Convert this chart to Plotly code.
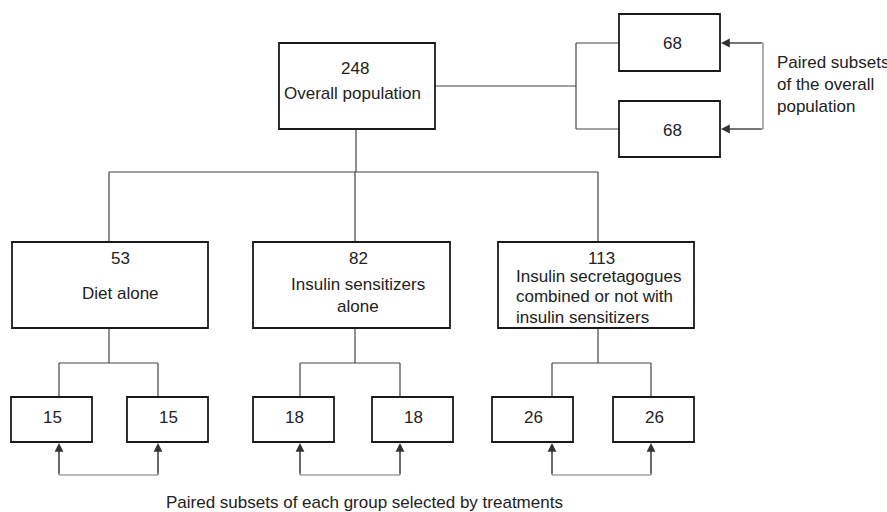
import plotly.graph_objects as go

# ---------------- data ----------------
overall_n = 248
overall_label = "Overall population"
overall_pairs_n = [68, 68]
side_note_lines = ["Paired subsets", "of the overall", "population"]
group_n = [53, 82, 113]
group_labels = [
    ["Diet alone"],
    ["Insulin sensitizers", "alone"],
    ["Insulin secretagogues", "combined or not with", "insulin sensitizers"],
]
subset_n = [[15, 15], [18, 18], [26, 26]]
caption = "Paired subsets of each group selected by treatments"

# ---------------- layout geometry (pixels) ----------------
W, H = 887, 512
TOP_BOX = (279, 43, 435, 129)
PAIR_BOXES = [(619, 14, 720, 71), (619, 101, 720, 157)]
PAIR_BUS_X = 576
PAIR_ARROW_X = 763
GROUP_BOXES = [(12, 242, 208, 328), (253, 242, 450, 328), (498, 242, 694, 328)]
GROUP_STEM_X = [109, 355, 598]
GROUP_BUS_Y = 172
GROUP_TEXT_X = [120, 358, None]
GROUP_TEXT_Y = [[258, 293], [258, 284, 306], [258, 276, 296, 317]]
SUB_BUS_Y = 363
SUB_BOXES = [[(11, 397, 92, 442), (127, 397, 208, 442)],
             [(253, 397, 334, 442), (372, 397, 453, 442)],
             [(492, 397, 573, 442), (613, 397, 694, 442)]]
SUB_STEM_X = [[59, 158], [300, 400], [552, 651]]
LOOP_Y = 475

FONT = "Liberation Sans, Arial, sans-serif"
FS = 17
TXT = "#222222"
BOX_LINE = dict(color="#1a1a1a", width=1.8)
CONN = dict(color="#444444", width=1.2)
LOOP = dict(color="#777777", width=1.2)

fig = go.Figure()
shapes = []
ann = []


def box(b):
    shapes.append(dict(type="rect", x0=b[0], y0=b[1], x1=b[2], y1=b[3],
                       xref="x", yref="y", line=BOX_LINE, fillcolor="white", layer="above"))


def seg(x0, y0, x1, y1, line=CONN):
    shapes.append(dict(type="line", x0=x0, y0=y0, x1=x1, y1=y1,
                       xref="x", yref="y", line=line, layer="below"))


def text(x, y, s, xanchor="center", align="center"):
    ann.append(dict(x=x, y=y, text=s, showarrow=False, xanchor=xanchor, yanchor="middle",
                    align=align, font=dict(family=FONT, size=FS, color=TXT)))


def arrow(tipx, tipy, tailx, taily):
    ann.append(dict(x=tipx, y=tipy, ax=tailx, ay=taily, axref="x", ayref="y",
                    xref="x", yref="y", text="", showarrow=True, arrowhead=2,
                    arrowsize=1.6, arrowwidth=1.1, arrowcolor="#333333", standoff=0))


# top box
box(TOP_BOX)
tcx = 355
text(tcx, 68, str(overall_n))
text(tcx - 3, 93, overall_label)

# connector to paired boxes
mid_y = (TOP_BOX[1] + TOP_BOX[3]) / 2
seg(TOP_BOX[2], mid_y, PAIR_BUS_X, mid_y)
pair_conn_y = [TOP_BOX[1], TOP_BOX[3]]
seg(PAIR_BUS_X, pair_conn_y[0], PAIR_BUS_X, pair_conn_y[1])
for b, n, cy in zip(PAIR_BOXES, overall_pairs_n, pair_conn_y):
    box(b)
    seg(PAIR_BUS_X, cy, b[0], cy)
    text((b[0] + b[2]) / 2 + 3, (b[1] + b[3]) / 2 + 1, str(n))
    arrow(b[2] + 1, cy, PAIR_ARROW_X, cy)
seg(PAIR_ARROW_X, pair_conn_y[0], PAIR_ARROW_X, pair_conn_y[1], LOOP)
seg(b[2] + 8, pair_conn_y[0], PAIR_ARROW_X, pair_conn_y[0], LOOP)
seg(b[2] + 8, pair_conn_y[1], PAIR_ARROW_X, pair_conn_y[1], LOOP)
text(775, 84, "<br>".join(side_note_lines), xanchor="left", align="left")

# top to groups
seg(356, TOP_BOX[3], 356, GROUP_BUS_Y)
seg(GROUP_STEM_X[0], GROUP_BUS_Y, GROUP_STEM_X[-1], GROUP_BUS_Y)
for i, (b, n, labels) in enumerate(zip(GROUP_BOXES, group_n, group_labels)):
    sx = GROUP_STEM_X[i]
    seg(sx, GROUP_BUS_Y, sx, b[1])
    box(b)
    ys = GROUP_TEXT_Y[i]
    if GROUP_TEXT_X[i] is None:
        text(601, ys[0], str(n))
        for s, y in zip(labels, ys[1:]):
            text(514, y, s, xanchor="left", align="left")
    else:
        text(GROUP_TEXT_X[i], ys[0], str(n))
        for s, y in zip(labels, ys[1:]):
            text(GROUP_TEXT_X[i], y, s)
    # to subsets
    seg(sx, b[3], sx, SUB_BUS_Y)
    xs = SUB_STEM_X[i]
    seg(xs[0], SUB_BUS_Y, xs[1], SUB_BUS_Y)
    for sb, sn, x in zip(SUB_BOXES[i], subset_n[i], xs):
        seg(x, SUB_BUS_Y, x, sb[1])
        box(sb)
        text((sb[0] + sb[2]) / 2 + 1, (sb[1] + sb[3]) / 2 - 2, str(sn))
        arrow(x, sb[3] + 1, x, LOOP_Y)
    seg(xs[0], LOOP_Y, xs[1], LOOP_Y, LOOP)
    seg(xs[0], sb[3] + 8, xs[0], LOOP_Y, LOOP)
    seg(xs[1], sb[3] + 8, xs[1], LOOP_Y, LOOP)

text(364, 502, caption)

fig.update_layout(
    width=W, height=H, margin=dict(l=0, r=0, t=0, b=0),
    paper_bgcolor="white", plot_bgcolor="white",
    xaxis=dict(range=[0, W], visible=False, fixedrange=True),
    yaxis=dict(range=[H, 0], visible=False, fixedrange=True),
    shapes=shapes, annotations=ann, showlegend=False,
)
fig.write_html(
    "out.html",
    config={"displayModeBar": False},
    post_script="document.body.style.margin='0px';document.body.style.padding='0px';"
                "document.documentElement.style.overflow='hidden';",
)
